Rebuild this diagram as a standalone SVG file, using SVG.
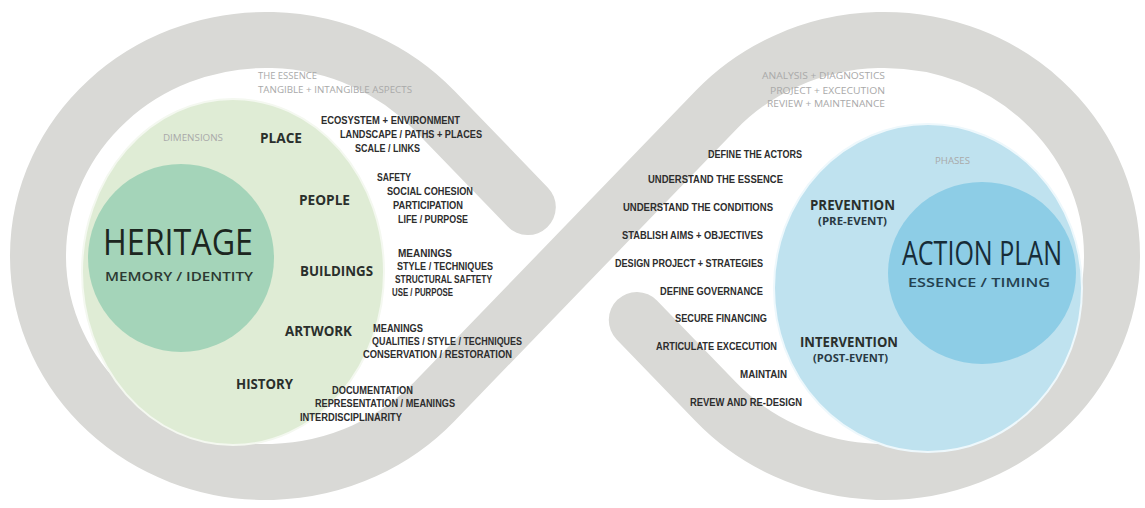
<svg xmlns="http://www.w3.org/2000/svg" width="1145" height="508" viewBox="0 0 1145 508">
<style>
.band{fill:none;stroke:#d9d9d6;stroke-width:56;stroke-linecap:round;stroke-linejoin:round}
.s{font-family:"Liberation Sans",Arial,sans-serif;font-weight:700;font-size:10px;fill:#2d2d2d}
.m{font-family:"Open Sans","Liberation Sans",sans-serif;font-weight:700;font-size:14px;fill:#2a2f2c}
.p{font-family:"Open Sans","Liberation Sans",sans-serif;font-weight:700;font-size:11px;fill:#2a3a44}
.g{font-family:"Open Sans","Liberation Sans",sans-serif;font-size:9px;fill:#a9a9a9}
.big{font-family:"Open Sans","Liberation Sans",sans-serif;font-size:36px}
.sub{font-family:"Open Sans","Liberation Sans",sans-serif;font-weight:600;font-size:13px}
</style>
<rect width="1145" height="508" fill="#ffffff"/>
<g id="connectors">
<path class="band" d="M 527.8 207.1 L 434.2 110.2 A 228 216 0 1 0 434.2 401.8 L 715.8 110.2 A 228 216 0 1 1 715.8 401.8 L 636.8 320"/>
</g>
<g id="heritage">
<ellipse cx="233" cy="272" rx="151" ry="173" fill="#dfecd5" stroke="#f4f8f0" stroke-width="2"/>
<ellipse cx="181" cy="258" rx="93" ry="94" fill="#a4d4b9"/>
<text class="big" x="103" y="255" textLength="150" lengthAdjust="spacingAndGlyphs" fill="#1c2620">HERITAGE</text>
<text class="sub" x="105" y="281" textLength="148" lengthAdjust="spacingAndGlyphs" fill="#2c3a32">MEMORY / IDENTITY</text>
</g>
<g id="essence-label">
<text class="g" x="258" y="78.5" textLength="59" lengthAdjust="spacingAndGlyphs">THE ESSENCE</text>
<text class="g" x="258" y="92.5" textLength="154" lengthAdjust="spacingAndGlyphs">TANGIBLE + INTANGIBLE ASPECTS</text>
<text class="g" x="163" y="140.5" textLength="60" lengthAdjust="spacingAndGlyphs">DIMENSIONS</text>
</g>
<g id="place">
<text class="m" x="260" y="143" textLength="42" lengthAdjust="spacingAndGlyphs">PLACE</text>
<text class="s" x="321" y="123.6" textLength="139" lengthAdjust="spacingAndGlyphs">ECOSYSTEM + ENVIRONMENT</text>
<text class="s" x="340" y="137.6" textLength="142" lengthAdjust="spacingAndGlyphs">LANDSCAPE / PATHS + PLACES</text>
<text class="s" x="355" y="151.6" textLength="65" lengthAdjust="spacingAndGlyphs">SCALE / LINKS</text>
</g>
<g id="people">
<text class="m" x="299" y="205" textLength="51" lengthAdjust="spacingAndGlyphs">PEOPLE</text>
<text class="s" x="377" y="180.6" textLength="34" lengthAdjust="spacingAndGlyphs">SAFETY</text>
<text class="s" x="387" y="194.6" textLength="86" lengthAdjust="spacingAndGlyphs">SOCIAL COHESION</text>
<text class="s" x="393" y="208.6" textLength="70" lengthAdjust="spacingAndGlyphs">PARTICIPATION</text>
<text class="s" x="398" y="222.6" textLength="70" lengthAdjust="spacingAndGlyphs">LIFE / PURPOSE</text>
</g>
<g id="buildings">
<text class="m" x="300" y="276" textLength="73" lengthAdjust="spacingAndGlyphs">BUILDINGS</text>
<text class="s" x="398" y="256.6" textLength="54" lengthAdjust="spacingAndGlyphs">MEANINGS</text>
<text class="s" x="397" y="269.6" textLength="96" lengthAdjust="spacingAndGlyphs">STYLE / TECHNIQUES</text>
<text class="s" x="395" y="282.6" textLength="97" lengthAdjust="spacingAndGlyphs">STRUCTURAL SAFTETY</text>
<text class="s" x="392" y="295.6" textLength="61" lengthAdjust="spacingAndGlyphs">USE / PURPOSE</text>
</g>
<g id="artwork">
<text class="m" x="285" y="336" textLength="67" lengthAdjust="spacingAndGlyphs">ARTWORK</text>
<text class="s" x="373" y="331.6" textLength="50" lengthAdjust="spacingAndGlyphs">MEANINGS</text>
<text class="s" x="372" y="344.6" textLength="150" lengthAdjust="spacingAndGlyphs">QUALITIES / STYLE / TECHNIQUES</text>
<text class="s" x="363" y="357.6" textLength="149" lengthAdjust="spacingAndGlyphs">CONSERVATION / RESTORATION</text>
</g>
<g id="history">
<text class="m" x="236" y="389" textLength="57" lengthAdjust="spacingAndGlyphs">HISTORY</text>
<text class="s" x="332" y="393.6" textLength="81" lengthAdjust="spacingAndGlyphs">DOCUMENTATION</text>
<text class="s" x="315" y="406.6" textLength="140" lengthAdjust="spacingAndGlyphs">REPRESENTATION / MEANINGS</text>
<text class="s" x="300" y="420.6" textLength="102" lengthAdjust="spacingAndGlyphs">INTERDISCIPLINARITY</text>
</g>
<g id="action-plan">
<ellipse cx="928" cy="288" rx="154" ry="164" fill="#bfe2ef" stroke="#eef8fc" stroke-width="2"/>
<ellipse cx="982" cy="273" rx="94" ry="91" fill="#8dcde6"/>
<text class="big" x="902" y="265" textLength="160" lengthAdjust="spacingAndGlyphs" fill="#172c38" style="font-size:32px">ACTION PLAN</text>
<text class="sub" x="908" y="287" textLength="142" lengthAdjust="spacingAndGlyphs" fill="#24414f">ESSENCE / TIMING</text>
<text class="m" x="810" y="210" textLength="85" lengthAdjust="spacingAndGlyphs" fill="#25394a">PREVENTION</text>
<text class="p" x="818" y="225" textLength="69" lengthAdjust="spacingAndGlyphs">(PRE-EVENT)</text>
<text class="m" x="800" y="347" textLength="98" lengthAdjust="spacingAndGlyphs" fill="#25394a">INTERVENTION</text>
<text class="p" x="813" y="362" textLength="75" lengthAdjust="spacingAndGlyphs">(POST-EVENT)</text>
<text class="g" x="935" y="163.5" textLength="35" lengthAdjust="spacingAndGlyphs">PHASES</text>
</g>
<g id="phases-label">
<text class="g" x="762" y="78.5" textLength="123" lengthAdjust="spacingAndGlyphs">ANALYSIS + DIAGNOSTICS</text>
<text class="g" x="770" y="93.5" textLength="115" lengthAdjust="spacingAndGlyphs">PROJECT + EXCECUTION</text>
<text class="g" x="767" y="106.5" textLength="118" lengthAdjust="spacingAndGlyphs">REVIEW + MAINTENANCE</text>
</g>
<g id="steps">
<text class="s" x="708" y="157.6" textLength="94" lengthAdjust="spacingAndGlyphs">DEFINE  THE ACTORS</text>
<text class="s" x="648" y="182.6" textLength="135" lengthAdjust="spacingAndGlyphs">UNDERSTAND THE  ESSENCE</text>
<text class="s" x="623" y="210.6" textLength="150" lengthAdjust="spacingAndGlyphs">UNDERSTAND THE CONDITIONS</text>
<text class="s" x="622" y="238.6" textLength="141" lengthAdjust="spacingAndGlyphs">STABLISH  AIMS + OBJECTIVES</text>
<text class="s" x="615" y="266.6" textLength="148" lengthAdjust="spacingAndGlyphs">DESIGN PROJECT + STRATEGIES</text>
<text class="s" x="660" y="294.6" textLength="103" lengthAdjust="spacingAndGlyphs">DEFINE GOVERNANCE</text>
<text class="s" x="675" y="321.6" textLength="92" lengthAdjust="spacingAndGlyphs">SECURE FINANCING</text>
<text class="s" x="656" y="349.6" textLength="121" lengthAdjust="spacingAndGlyphs">ARTICULATE EXCECUTION</text>
<text class="s" x="740" y="377.6" textLength="47" lengthAdjust="spacingAndGlyphs">MAINTAIN</text>
<text class="s" x="690" y="405.6" textLength="112" lengthAdjust="spacingAndGlyphs">REVEW AND RE-DESIGN</text>
</g>
</svg>
